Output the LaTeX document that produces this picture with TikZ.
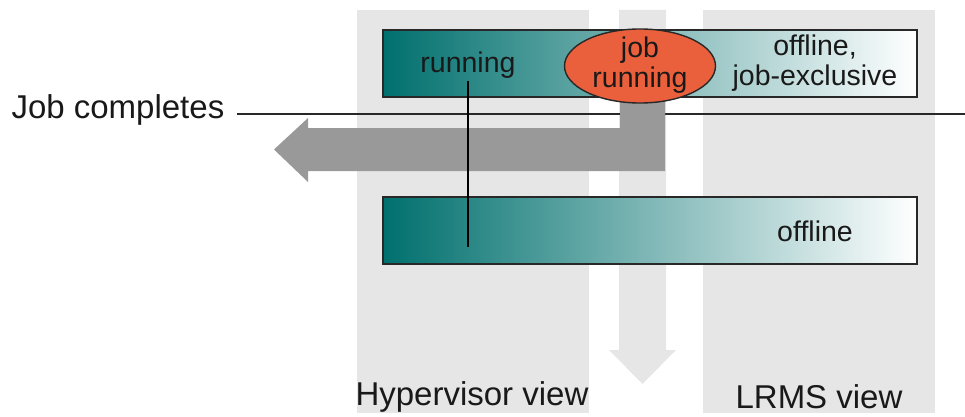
\documentclass[tikz,border=0pt]{standalone}
\usepackage{fontspec}
\setmainfont{Liberation Sans}
\usetikzlibrary{shapes.geometric}
\definecolor{colgray}{RGB}{230,230,230}
\definecolor{arrgray}{RGB}{153,153,153}
\definecolor{teal0}{RGB}{0,112,110}
\definecolor{jobred}{RGB}{234,96,60}
\definecolor{edge}{RGB}{40,40,40}
\tikzset{
  column/.style={fill=colgray, draw=none},
  statebar/.style={draw=edge, line width=2pt, left color=teal0, right color=white, shading=axis, shading angle=90, minimum width=534pt, minimum height=67pt, inner sep=0pt},
  big/.style={font=\fontsize{33}{37}\selectfont, text=black!90},
  small/.style={font=\fontsize{28.5}{30}\selectfont, text=black!90, align=center},
  link/.style={draw=black, line width=2pt},
}
\begin{document}
\begin{tikzpicture}[x=1pt,y=-1pt]
\useasboundingbox (0,0) rectangle (965,417);
% view columns
\fill[column] (357,10) rectangle (589,413);
\fill[column] (703,10) rectangle (935,413);
\fill[column] (619,10) -- (666,10) -- (666,350) -- (676,350) -- (642.5,384) -- (609,350) -- (619,350) -- cycle;
% job completes line
\node[big, anchor=west] (jc) at (8,110) {Job completes};
\coordinate (linestart) at (237,114);
\coordinate (lineend) at (965,114);
\draw[draw=edge, line width=2pt] (linestart) -- (lineend);
% gray transition arrow
\fill[arrgray] (620,97) -- (665,97) -- (665,171) -- (308,171) -- (308,182) -- (274,149.5) -- (308,118) -- (308,128) -- (620,128) -- cycle;
% state bars
\node[statebar] (top) at (650,63.5) {};
\node[statebar] (bot) at (650,230.5) {};
\node[small] (run) at (468,65) {running};
\node[small] (offx) at (815,63) {offline,\\job-exclusive};
\node[small] (off) at (815,231) {offline};
\node[ellipse, draw=edge, line width=1.4pt, fill=jobred, minimum width=151pt, minimum height=74pt, inner sep=0pt] (job) at (640,66) {};
\node[small] (jobtxt) at (640,65) {job\\running};
% hypervisor keeps running
\coordinate (runend) at (468,247);
\draw[link] (run.south) ++(0,-1) -- (runend);
% view labels
\node[big] (hv) at (472,397) {Hypervisor view};
\node[big] (lv) at (819,397) {LRMS view};
\end{tikzpicture}
\end{document}
